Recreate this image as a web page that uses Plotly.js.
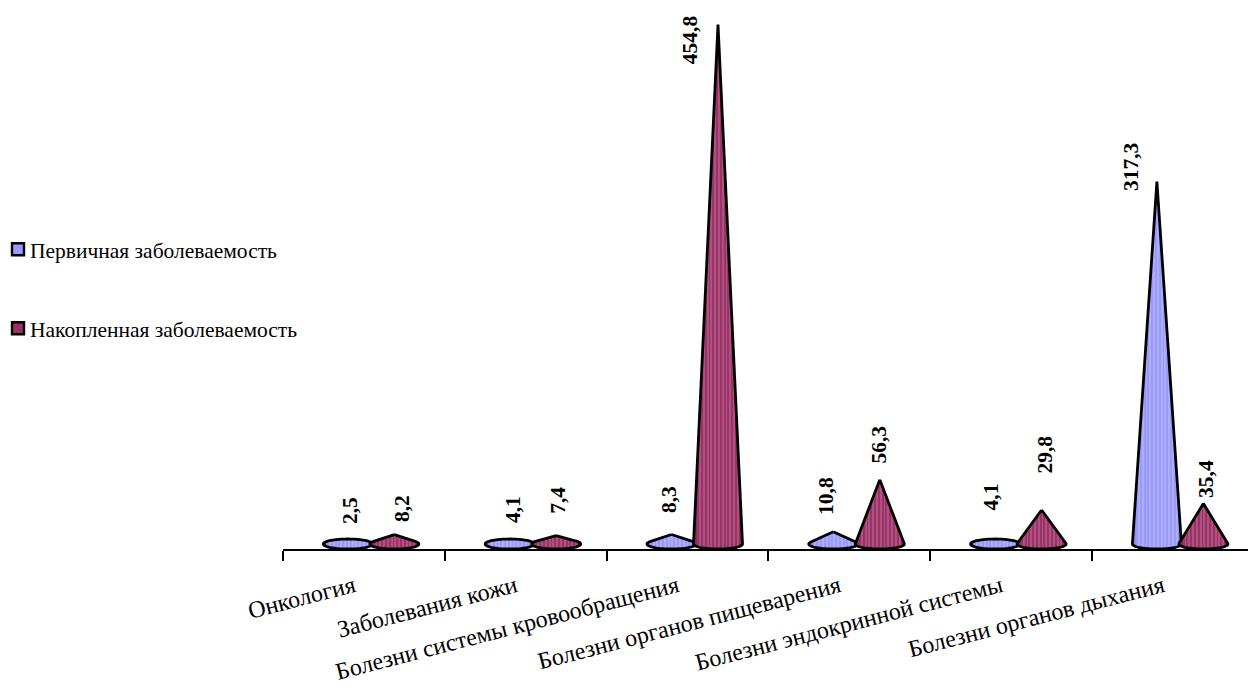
<!DOCTYPE html>
<html>
<head>
<meta charset="utf-8">
<script src="https://cdn.plot.ly/plotly-3.0.1.min.js"></script>
<style>html,body{margin:0;padding:0;background:#fff;overflow:hidden}#chart{width:1248px;height:690px}</style>
</head>
<body>
<div id="chart"></div>
<script>
const categories = ["Онкология","Заболевания кожи","Болезни системы кровообращения","Болезни органов пищеварения","Болезни эндокринной системы","Болезни органов дыхания"];
const primaryName = "Первичная заболеваемость";
const accumulatedName = "Накопленная заболеваемость";
const primary = [2.5,4.1,8.3,10.8,4.1,317.3];
const accumulated = [8.2,7.4,454.8,56.3,29.8,35.4];
// label nudges relative to each cone's apex, in pixels
const primaryNudgeX = [2,4,-3,-8,-4,-26.5];
const primaryNudgeY = [-31,-30,-35,-36,-42,-15];
const accumulatedNudgeX = [7,1,-28.5,-1,3,2];
const accumulatedNudgeY = [-26,-35,15,-35,-55,-25];

const W = 1248, H = 690, L = 283, AXIS_Y = 549.5, CAT_PX = 161.8, UNIT_PX = 1.143, BASE_B_PX = 5;
const baseB = BASE_B_PX / UNIT_PX, baseA = 24.5 / CAT_PX;
const serif = '"Liberation Serif","Times New Roman",serif';

function stripes(dark, mid, light) {
  const n = 26, cs = [];
  for (let i = 0; i < n; i++) {
    const edge = i < 2 || i >= n - 2;
    const c = edge ? dark : (i % 2 ? light : mid);
    cs.push([i / n, c], [(i + 1) / n, c]);
  }
  return cs;
}
function cone(cx, h) {
  const xs = [], ys = [], N = 48;
  if (h <= baseB) {
    for (let i = 0; i <= N; i++) { const t = 2 * Math.PI * i / N; xs.push(cx + baseA * Math.cos(t)); ys.push(baseB * Math.sin(t)); }
  } else {
    const s = baseB / h, c = Math.sqrt(1 - s * s);
    xs.push(cx); ys.push(h);
    const a0 = Math.atan2(s, c);
    const a1 = Math.PI - a0;
    for (let i = 0; i <= N; i++) {
      const t = a1 + (2 * Math.PI + a0 - a1) * i / N;
      xs.push(cx + baseA * Math.cos(t)); ys.push(baseB * Math.sin(t));
    }
    xs.push(cx); ys.push(h);
  }
  return {x: xs, y: ys};
}
const series = [
  {name: primaryName, vals: primary, off: -16 / CAT_PX, base: "#9999ff", cs: stripes("#8f8fec", "#9a9af8", "#adadff"), nx: primaryNudgeX, ny: primaryNudgeY},
  {name: accumulatedName, vals: accumulated, off: 30.5 / CAT_PX, base: "#993366", cs: stripes("#8c2e5c", "#983567", "#b04f80"), nx: accumulatedNudgeX, ny: accumulatedNudgeY}
];
const traces = [], annotations = [];
series.forEach(s => {
  s.vals.forEach((v, i) => {
    const cx = i + 0.5 + s.off, g = cone(cx, v);
    traces.push({type: "scatter", mode: "lines", x: g.x, y: g.y, fill: "toself",
      fillgradient: {type: "horizontal", colorscale: s.cs},
      line: {color: "#000", width: 2.8, simplify: false}, showlegend: false, hoverinfo: "skip", name: s.name});
    annotations.push({x: cx, y: v, xref: "x", yref: "y", text: "<b>" + String(v).replace(".", ",") + "</b>",
      textangle: -90, showarrow: false, xanchor: "center", yanchor: "middle", xshift: s.nx[i], yshift: -s.ny[i],
      font: {family: serif, size: 21.5, color: "#000"}});
  });
});
series.forEach(s => {
  traces.push({type: "scatter", mode: "markers", x: [null], y: [null], name: s.name, legendgroup: s.name, showlegend: true,
    marker: {symbol: "square", size: 12, color: s.base, line: {color: "#000", width: 2.4}}});
});
const layout = {
  width: W, height: H, paper_bgcolor: "#fff", plot_bgcolor: "#fff", showlegend: true,
  margin: {l: L, r: 0, t: 0, b: H - AXIS_Y, pad: 0, autoexpand: false},
  font: {family: serif, color: "#000"},
  xaxis: {range: [0, (W - L) / CAT_PX], showgrid: false, zeroline: false, showline: true, linecolor: "#000", linewidth: 2,
    tickmode: "array", tickvals: categories.map((c, i) => i + 0.5), ticktext: categories, ticks: "", tickangle: -14.5,
    ticklabelstandoff: 12, ticklabelshift: -10,
    tickfont: {family: serif, size: 24, color: "#000"},
    minor: {tickmode: "array", tickvals: [0,1,2,3,4,5], ticks: "outside", ticklen: 10, tickwidth: 2, tickcolor: "#000", showgrid: false}},
  yaxis: {range: [-(BASE_B_PX / UNIT_PX), (AXIS_Y - BASE_B_PX) / UNIT_PX], visible: false, fixedrange: true},
  legend: {x: (-10 - L) / (W - L), xanchor: "left", y: 1 - 229 / AXIS_Y, yanchor: "top", tracegroupgap: 48, bgcolor: "rgba(0,0,0,0)",
    font: {family: serif, size: 21.5, color: "#000"}, itemclick: false, itemdoubleclick: false},
  annotations: annotations
};
Plotly.newPlot("chart", traces, layout, {displayModeBar: false, staticPlot: true}).then(() => {
  document.querySelectorAll(".legendsymbols").forEach(el => el.setAttribute("transform", "translate(8,0)"));
});
</script>
</body>
</html>
